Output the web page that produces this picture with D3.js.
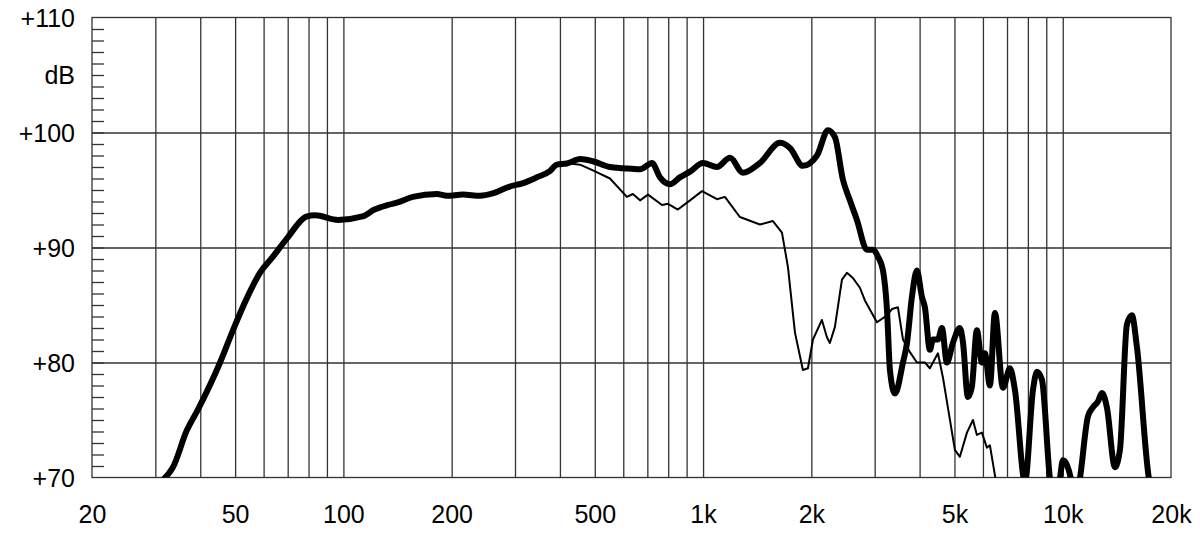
<!DOCTYPE html>
<html>
<head>
<meta charset="utf-8">
<script src="https://cdn.jsdelivr.net/npm/d3@7"></script>
<style>
  html, body { margin: 0; padding: 0; background: #fff; }
  svg { display: block; font-family: "Liberation Sans", Arial, sans-serif; }
  .grid line { stroke: #333; stroke-width: 1.3px; }
  .grid path { display: none; }
  .lbl path, .lbl line { display: none; }
  .lbl text { fill: #000; }
</style>
</head>
<body>
<svg width="1200" height="536"></svg>
<script>
const width = 1200, height = 536;
const plotLeft = 92, plotRight = 1171, plotTop = 17.5, plotBottom = 477.5;

// tick labels / grid positions
const xLabels = [20, 50, 100, 200, 500, 1000, 2000, 5000, 10000, 20000];
const xGrid = [30, 40, 50, 60, 70, 80, 90, 100, 200, 300, 400, 500, 600, 700, 800, 900,
               1000, 2000, 3000, 4000, 5000, 6000, 7000, 8000, 9000, 10000];
const yLabels = [70, 80, 90, 100, 110];
const yGrid = [80, 90, 100];

// thick curve (on axis response)
const mainFreq = [
  31.5, 33.6, 36.7, 39.4, 45.4, 49.3, 53.9, 58.6, 63.7, 69.7,
  79.2, 83.4, 96.6, 113, 122, 133, 141, 156, 182, 194,
  215, 240, 260, 290, 316, 345, 375, 392, 418, 455,
  494, 551, 599, 668, 721, 759, 809, 862, 920, 999,
  1093, 1188, 1291, 1439, 1636, 1744, 1895, 2074, 2225, 2326,
  2448, 2560, 2678, 2856, 2968, 3064, 3164, 3246, 3309, 3416,
  3596, 3690, 3808, 3932, 4060, 4138, 4272, 4356, 4498, 4614,
  4764, 4950, 5176, 5278, 5450, 5590, 5772, 5960, 6076, 6274,
  6478, 6820, 7132, 7364, 7852, 8264, 8478, 8754, 9212, 9512,
  9822, 10012, 10270, 10536, 10810, 11162, 11750, 12132, 12526, 12850,
  13268, 13966, 14422, 15082, 15572, 16078, 17366, 17800
];
const mainDb = [
  69.8, 70.9, 74.1, 75.9, 80.0, 82.8, 85.6, 87.8, 89.2, 90.8,
  92.7, 92.8, 92.4, 92.7, 93.3, 93.7, 93.9, 94.4, 94.65, 94.5,
  94.6, 94.5, 94.7, 95.3, 95.6, 96.1, 96.65, 97.2, 97.3, 97.7,
  97.5, 97.0, 96.9, 96.8, 97.35, 96.1, 95.5, 96.1, 96.6, 97.35,
  97.0, 97.8, 96.5, 97.35, 99.1, 98.65, 97.1, 98.0, 100.2, 99.6,
  95.9, 94.1, 92.4, 89.8, 89.8, 89.2, 88.0, 84.6, 79.3, 77.3,
  80.0, 81.7, 85.7, 88.0, 85.7, 84.8, 81.1, 82.0, 82.0, 83.0,
  80.0, 81.7, 83.0, 81.8, 77.0, 77.9, 82.8, 80.0, 80.8, 78.0,
  84.3, 77.8, 79.5, 77.6, 69.6, 77.6, 79.2, 78.5, 69.9, 67.5,
  69.9, 71.5, 71.1, 69.9, 67.5, 69.9, 75.3, 76.1, 76.6, 77.35,
  76.1, 70.9, 72.4, 83.3, 84.1, 81.35, 69.9, 68.5
];

// thin curve (off axis response)
const offFreq = [
  392, 427, 455, 494, 551, 614, 638, 668, 703, 769,
  799, 851, 920, 993, 1093, 1150, 1266, 1439, 1564, 1657,
  1722, 1801, 1895, 1957, 2021, 2140, 2210, 2252, 2326, 2433,
  2512, 2610, 2730, 2818, 3044, 3246, 3350, 3482, 3596, 3760,
  3932, 4138, 4272, 4498, 4644, 5014, 5176, 5416, 5628, 5772,
  5960, 6154, 6274, 6478, 6562
];
const offDb = [
  97.2, 97.3, 97.2, 96.7, 96.0, 94.4, 94.65, 94.1, 94.6, 93.7,
  93.8, 93.3, 94.1, 94.9, 94.2, 94.4, 92.65, 92.0, 92.3, 91.3,
  88.3, 82.6, 79.35, 79.5, 82.0, 83.7, 82.2, 81.7, 83.1, 87.2,
  87.8, 87.35, 86.5, 85.4, 83.5, 84.1, 84.65, 84.8, 82.0, 80.9,
  80.0, 80.0, 79.5, 80.8, 78.7, 72.4, 71.8, 73.9, 75.0, 73.7,
  73.9, 72.6, 72.8, 70.2, 69.0
];

const svg = d3.select("svg");
const x = d3.scaleLog().domain([20, 20000]).range([plotLeft, plotRight]);
const y = d3.scaleLinear().domain([70, 110]).range([plotBottom, plotTop]);

// vertical grid
svg.append("g")
    .attr("class", "grid")
    .attr("transform", `translate(0,${plotBottom})`)
    .call(d3.axisBottom(x).tickValues(xGrid).tickSize(-(plotBottom - plotTop)).tickFormat(""));

// horizontal grid
svg.append("g")
    .attr("class", "grid")
    .attr("transform", `translate(${plotLeft},0)`)
    .call(d3.axisLeft(y).tickValues(yGrid).tickSize(-(plotRight - plotLeft)).tickFormat(""));

// 1 dB minor ticks on the left edge
svg.append("g")
    .attr("class", "grid")
    .attr("transform", `translate(${plotLeft},0)`)
    .call(d3.axisLeft(y).tickValues(d3.range(71, 110)).tickSize(-12).tickFormat(""));

// frame
svg.append("rect")
    .attr("x", plotLeft).attr("y", plotTop)
    .attr("width", plotRight - plotLeft).attr("height", plotBottom - plotTop)
    .attr("fill", "none").attr("stroke", "#333").attr("stroke-width", 1.3);

// labels
const fmtHz = d => d >= 1000 ? (d / 1000) + "k" : String(d);
const xAx = svg.append("g")
    .attr("class", "lbl")
    .attr("transform", `translate(0,${plotBottom})`)
    .call(d3.axisBottom(x).tickValues(xLabels).tickSize(0).tickFormat(fmtHz));
xAx.selectAll("text")
    .attr("y", 45).attr("dy", 0)
    .style("font-size", "25px");

const yAx = svg.append("g")
    .attr("class", "lbl")
    .attr("transform", `translate(${plotLeft},0)`)
    .call(d3.axisLeft(y).tickValues(yLabels).tickSize(0).tickFormat(d => "+" + d));
yAx.selectAll("text")
    .attr("x", -17).attr("dy", "0.36em")
    .style("font-size", "25px");

svg.append("text")
    .attr("x", 75).attr("y", y(105))
    .attr("dy", "0.36em")
    .attr("text-anchor", "end")
    .style("font-size", "25px")
    .text("dB");

// curves
svg.append("clipPath").attr("id", "plot")
  .append("rect")
    .attr("x", plotLeft).attr("y", plotTop)
    .attr("width", plotRight - plotLeft).attr("height", plotBottom - plotTop);

const smooth = d3.line()
    .x(d => x(d[0]))
    .y(d => y(d[1]))
    .curve(d3.curveMonotoneX);

const straight = d3.line()
    .x(d => x(d[0]))
    .y(d => y(d[1]));

svg.append("path")
    .datum(d3.zip(offFreq, offDb))
    .attr("clip-path", "url(#plot)")
    .attr("fill", "none")
    .attr("stroke", "#000")
    .attr("stroke-width", 2)
    .attr("stroke-linejoin", "round")
    .attr("d", straight);

svg.append("path")
    .datum(d3.zip(mainFreq, mainDb))
    .attr("clip-path", "url(#plot)")
    .attr("fill", "none")
    .attr("stroke", "#000")
    .attr("stroke-width", 6)
    .attr("stroke-linejoin", "round")
    .attr("stroke-linecap", "round")
    .attr("d", smooth);
</script>
</body>
</html>
